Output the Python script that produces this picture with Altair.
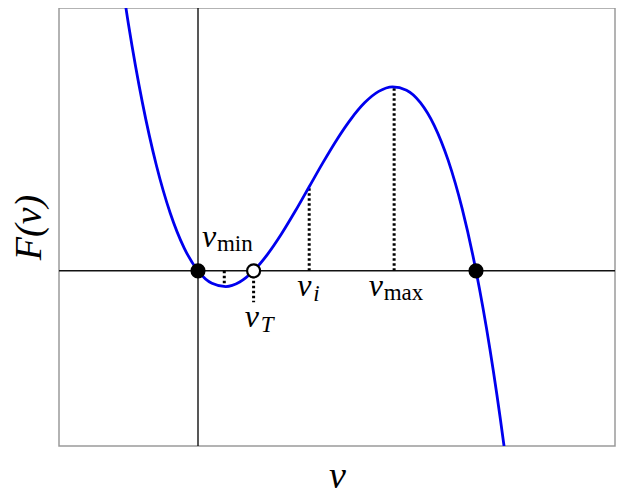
import altair as alt
import pandas as pd

# curve F(v)
v_vals = [-0.30, -0.25, -0.20, -0.15, -0.10, -0.05, 0.00, 0.05, 0.10, 0.15, 0.20,
          0.25, 0.30, 0.35, 0.40, 0.45, 0.50, 0.55, 0.60, 0.65, 0.70, 0.75, 0.80,
          0.85, 0.90, 0.95, 1.00, 1.05, 1.10, 1.15]
f_vals = [0.195, 0.1406, 0.096, 0.0604, 0.033, 0.0131, 0.0, -0.0071, -0.009, -0.0064, 0.0,
          0.0094, 0.021, 0.0341, 0.048, 0.0619, 0.075, 0.0866, 0.096, 0.1024, 0.105, 0.1031,
          0.096, 0.0829, 0.063, 0.0356, 0.0, -0.0446, -0.099, -0.1639]

# fixed points
pt_x = [0.0, 0.2, 1.0]
pt_y = [0.0, 0.0, 0.0]
pt_kind = ["filled", "open", "filled"]

# dotted guide lines
guide_x = [0.0945, 0.2, 0.4, 0.7055]
guide_y1 = [0.0, 0.0, 0.0, 0.0]
guide_y2 = [-0.0074, -0.018, 0.048, 0.105]

# labels (left-baseline of the italic v)
lab_x = [0.014, 0.168, 0.357, 0.614]
lab_y = [0.0136, -0.0323, -0.0142, -0.0142]
lab_sub = ["min", "T", "i", "max"]
lab_subitalic = [False, True, True, False]

curve = pd.DataFrame({"v": v_vals, "F": f_vals})
pts = pd.DataFrame({"v": pt_x, "F": pt_y, "kind": pt_kind})
guides = pd.DataFrame({"v": guide_x, "y1": guide_y1, "y2": guide_y2})
labs = pd.DataFrame({"v": lab_x, "F": lab_y, "sub": lab_sub, "it": lab_subitalic})

xs = alt.Scale(domain=[-0.5, 1.5], nice=False, zero=False)
ys = alt.Scale(domain=[-0.1, 0.15], nice=False, zero=False)

X = alt.X("v:Q", scale=xs, title="v")
Y = alt.Y("F:Q", scale=ys, title="F(v)")

vaxis = alt.Chart(pd.DataFrame({"v": [0.0]})).mark_rule(color="#111", strokeWidth=1.4).encode(x=X)
haxis = alt.Chart(pd.DataFrame({"F": [0.0]})).mark_rule(color="#111", strokeWidth=1.4).encode(y=Y)

guide = alt.Chart(guides).mark_rule(color="black", strokeWidth=3, strokeDash=[2.5, 2.5]).encode(
    x=X, y=alt.Y("y1:Q", scale=ys, title="F(v)"), y2="y2:Q")

line = alt.Chart(curve).mark_line(color="#0000ee", strokeWidth=2.8, clip=True,
                                  interpolate="monotone").encode(x=X, y=Y)

filled = alt.Chart(pts).transform_filter(alt.datum.kind == "filled").mark_point(
    shape="circle", filled=True, color="black", size=230, opacity=1).encode(x=X, y=Y)
openp = alt.Chart(pts).transform_filter(alt.datum.kind == "open").mark_point(
    shape="circle", filled=True, fill="white", stroke="black", strokeWidth=2.2,
    size=170, opacity=1).encode(x=X, y=Y)

vtxt = alt.Chart(labs).mark_text(text="v", font="Liberation Serif", fontStyle="italic",
                                 fontSize=32, align="left", baseline="alphabetic",
                                 color="black").encode(x=X, y=Y)
sub_roman = alt.Chart(labs).transform_filter(alt.datum.it == False).mark_text(
    font="Liberation Serif", fontSize=23, align="left", baseline="alphabetic",
    dx=15, dy=4, color="black").encode(x=X, y=Y, text="sub:N")
sub_it = alt.Chart(labs).transform_filter(alt.datum.it == True).mark_text(
    font="Liberation Serif", fontStyle="italic", fontSize=23, align="left",
    baseline="alphabetic", dx=16, dy=5, color="black").encode(x=X, y=Y, text="sub:N")

chart = alt.layer(vaxis, haxis, guide, line, filled, openp, vtxt, sub_roman, sub_it).properties(
    width=556, height=438,
    autosize=alt.AutoSizeParams(type="none"),
    padding={"left": 51, "top": 0, "right": 1, "bottom": 43},
).configure_view(stroke="#9a9a9a", strokeWidth=1.5).configure_axis(
    labels=False, ticks=False, domain=False, grid=False,
    titleFont="Liberation Serif", titleFontStyle="italic", titleFontWeight="normal",
    titleFontSize=38, titleColor="black",
).configure_axisX(titlePadding=11).configure_axisY(titlePadding=11)

chart.save("out.html", embed_options={"renderer": "svg", "actions": False})
